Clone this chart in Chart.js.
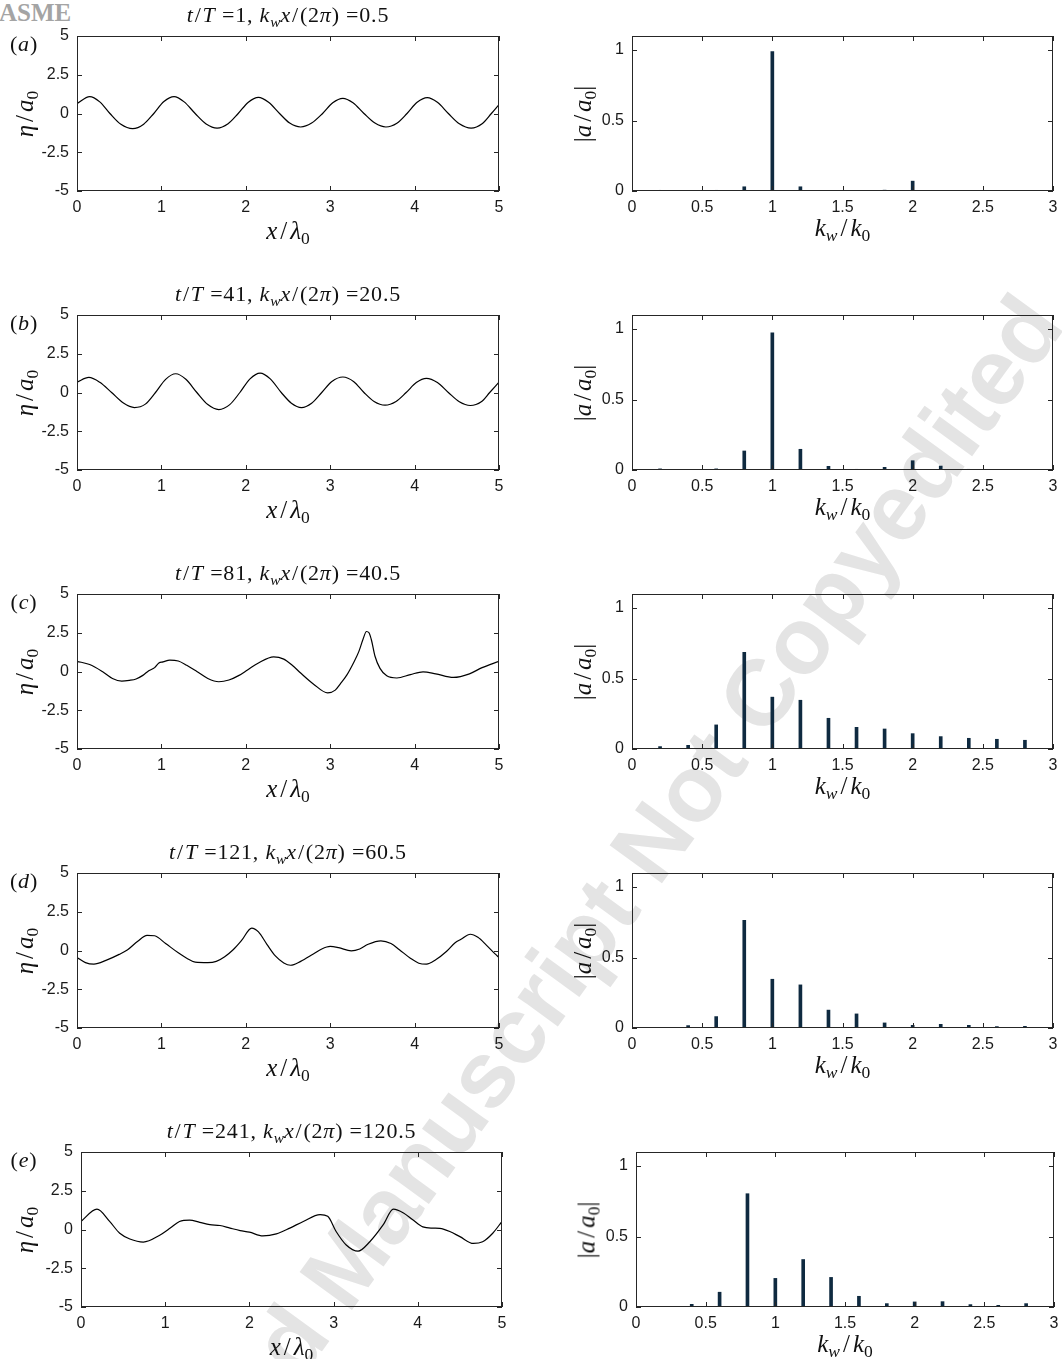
<!DOCTYPE html>
<html>
<head>
<meta charset="utf-8">
<script src="https://cdn.jsdelivr.net/npm/chart.js@4.4.0/dist/chart.umd.min.js"></script>
<style>
  body { margin: 0; background: #fff; }
  #page { position: relative; width: 1062px; height: 1359px; overflow: hidden; background: #fff; }
  .box { position: absolute; z-index: 2; }
  .math { position: absolute; z-index: 3; font-family: "Liberation Serif", "DejaVu Serif", serif;
          font-size: 25px; color: #111; white-space: nowrap; line-height: 1; transform: translate(-50%, -50%); }
  .math.title { font-size: 22px; letter-spacing: 0.8px; }
  .math.rot { transform: translate(-50%, -50%) rotate(-90deg); }
  .math sub { font-size: 70%; vertical-align: -0.3em; line-height: 0; letter-spacing: 0; }
  .math .sl { padding: 0 3px; }
  .math.title .sl { padding: 0 1px; }
  #asme { position: absolute; left: -1px; top: 0px; z-index: 1; font-family: "Liberation Serif", serif;
          font-weight: bold; font-size: 25px; color: #a4a4a4; line-height: 1; }
  #wm { position: absolute; left: 85px; top: 1599px; z-index: 1; transform-origin: 0 80px; transform: rotate(-54deg);
        font-family: "Liberation Sans", Arial, sans-serif; font-weight: bold; font-size: 94px; line-height: 1;
        color: #e4e4e4; white-space: nowrap; }
</style>
</head>
<body>
<div id="page">
  <div id="asme">ASME</div>
  <div id="wm">Accepted Manuscript Not Copyedited</div>
</div>
<script>
// ---- data ----
var panelLetters = ["a", "b", "c", "d", "e"];
var timeLabels = ["1", "41", "81", "121", "241"];
var phaseLabels = ["0.5", "20.5", "40.5", "60.5", "120.5"];

var xTicksLeft = [0, 1, 2, 3, 4, 5];
var yTicksLeft = [-5, -2.5, 0, 2.5, 5];
var xTicksRight = [0, 0.5, 1, 1.5, 2, 2.5, 3];
var yTicksRight = [0, 0.5, 1];

// surface elevation eta/a0 against x/lambda0
var etaX_a = [0, 0.15, 0.27, 0.39, 0.52, 0.66, 0.79, 0.91, 1.03, 1.15, 1.27, 1.40, 1.53, 1.66, 1.79, 1.91, 2.03, 2.15, 2.27, 2.40, 2.52, 2.65, 2.78, 2.91, 3.03, 3.15, 3.27, 3.40, 3.53, 3.66, 3.79, 3.91, 4.03, 4.15, 4.27, 4.40, 4.53, 4.67, 4.80, 4.91, 5.0];
var etaY_a = [0.63, 1.09, 0.75, 0, -0.70, -0.98, -0.69, 0, 0.77, 1.09, 0.75, 0, -0.67, -0.94, -0.66, 0, 0.73, 1.04, 0.72, 0, -0.62, -0.87, -0.62, 0, 0.69, 0.98, 0.69, 0, -0.62, -0.87, -0.63, 0, 0.72, 1.02, 0.72, 0, -0.66, -0.94, -0.66, 0, 0.57];

var etaX_b = [0, 0.14, 0.27, 0.41, 0.55, 0.68, 0.81, 0.93, 1.05, 1.17, 1.29, 1.42, 1.55, 1.68, 1.81, 1.93, 2.05, 2.17, 2.29, 2.42, 2.54, 2.66, 2.78, 2.90, 3.02, 3.15, 3.28, 3.40, 3.52, 3.65, 3.78, 3.90, 4.02, 4.14, 4.27, 4.40, 4.53, 4.66, 4.79, 4.89, 5.0];
var etaY_b = [0.67, 0.97, 0.66, 0, -0.68, -0.97, -0.75, 0, 0.85, 1.21, 0.85, 0, -0.78, -1.10, -0.78, 0, 0.88, 1.25, 0.88, 0, -0.69, -0.97, -0.69, 0, 0.71, 1.0, 0.70, 0, -0.58, -0.82, -0.58, 0, 0.64, 0.91, 0.64, 0, -0.60, -0.84, -0.60, 0, 0.67];

var etaX_c = [0, 0.15, 0.30, 0.42, 0.53, 0.62, 0.70, 0.78, 0.85, 0.92, 0.97, 1.02, 1.10, 1.20, 1.30, 1.42, 1.55, 1.68, 1.80, 1.92, 2.02, 2.15, 2.33, 2.45, 2.55, 2.65, 2.80, 2.97, 3.06, 3.12, 3.20, 3.28, 3.34, 3.39, 3.43, 3.46, 3.49, 3.53, 3.59, 3.67, 3.79, 3.95, 4.10, 4.25, 4.46, 4.65, 4.80, 5.0];
var etaY_c = [0.66, 0.45, 0.0, -0.45, -0.62, -0.57, -0.48, -0.25, 0.05, 0.25, 0.55, 0.62, 0.74, 0.68, 0.40, 0.0, -0.45, -0.66, -0.55, -0.25, 0.10, 0.55, 0.95, 0.80, 0.40, -0.10, -0.80, -1.38, -1.20, -0.80, -0.20, 0.60, 1.30, 2.10, 2.58, 2.50, 2.00, 1.00, 0.20, -0.28, -0.42, -0.20, -0.02, -0.15, -0.38, -0.15, 0.25, 0.66];

var etaX_d = [0, 0.10, 0.20, 0.35, 0.50, 0.60, 0.72, 0.83, 0.92, 1.05, 1.20, 1.30, 1.40, 1.55, 1.65, 1.75, 1.85, 1.95, 2.07, 2.15, 2.25, 2.35, 2.45, 2.53, 2.65, 2.80, 2.90, 3.00, 3.10, 3.25, 3.35, 3.45, 3.60, 3.72, 3.82, 3.95, 4.05, 4.14, 4.25, 4.38, 4.48, 4.55, 4.66, 4.75, 4.85, 4.95, 5.0];
var etaY_d = [-0.45, -0.78, -0.88, -0.62, -0.25, 0.05, 0.60, 0.98, 0.95, 0.45, -0.15, -0.50, -0.75, -0.78, -0.70, -0.40, 0.05, 0.65, 1.45, 1.20, 0.40, -0.35, -0.80, -0.95, -0.70, -0.22, 0.10, 0.26, 0.18, -0.02, 0.10, 0.40, 0.62, 0.45, 0.05, -0.50, -0.82, -0.88, -0.60, -0.05, 0.50, 0.72, 1.05, 0.85, 0.35, -0.20, -0.45];

var etaX_e = [0, 0.19, 0.34, 0.46, 0.58, 0.74, 0.94, 1.06, 1.17, 1.29, 1.41, 1.53, 1.65, 1.77, 1.89, 2.00, 2.16, 2.32, 2.48, 2.64, 2.84, 2.93, 3.03, 3.15, 3.29, 3.43, 3.59, 3.71, 3.83, 3.94, 4.06, 4.18, 4.26, 4.38, 4.50, 4.66, 4.77, 4.89, 5.0];
var etaY_e = [0.52, 1.31, 0.52, -0.24, -0.61, -0.81, -0.35, 0.09, 0.52, 0.61, 0.46, 0.31, 0.26, 0.09, -0.07, -0.17, -0.41, -0.28, 0.09, 0.52, 0.96, 0.85, -0.13, -1.00, -1.40, -0.79, 0.31, 1.31, 1.07, 0.63, 0.17, 0.09, 0.07, -0.13, -0.46, -0.90, -0.79, -0.24, 0.52];

// spectrum |a/a0| against kw/k0
var waveNumbers = [0.2, 0.4, 0.6, 0.8, 1.0, 1.2, 1.4, 1.6, 1.8, 2.0, 2.2, 2.4, 2.6, 2.8];
var amp_a = [0.005, 0.004, 0.005, 0.03, 0.99, 0.03, 0.004, 0.003, 0.006, 0.07, 0.004, 0.003, 0.002, 0.002];
var amp_b = [0.008, 0.003, 0.008, 0.135, 0.974, 0.147, 0.026, 0.005, 0.019, 0.066, 0.028, 0.005, 0.003, 0.002];
var amp_c = [0.017, 0.026, 0.171, 0.686, 0.368, 0.346, 0.218, 0.154, 0.142, 0.109, 0.088, 0.076, 0.069, 0.062];
var amp_d = [0.003, 0.017, 0.081, 0.764, 0.346, 0.306, 0.127, 0.100, 0.036, 0.019, 0.026, 0.019, 0.010, 0.012];
var amp_e = [0.004, 0.019, 0.105, 0.804, 0.203, 0.337, 0.210, 0.076, 0.024, 0.036, 0.038, 0.017, 0.012, 0.024];

var etaX = [etaX_a, etaX_b, etaX_c, etaX_d, etaX_e];
var etaY = [etaY_a, etaY_b, etaY_c, etaY_d, etaY_e];
var amps = [amp_a, amp_b, amp_c, amp_d, amp_e];

// ---- layout (plot areas in page pixels) ----
var rowTop = [36, 315, 594, 873, 1152];
var plotH = 155;
var leftX = [[77, 499], [77, 499], [77, 499], [77, 499], [81, 502]];
var rightX = [[632, 1053], [632, 1053], [632, 1053], [632, 1053], [636, 1054]];
var PADL = 60, PADT = 22, PADR = 18, PADB = 34;

var tickFont = { family: "'Liberation Sans', Arial, sans-serif", size: 16 };
var axisColor = '#262626';

var boxPlugin = {
  id: 'boxPlugin',
  afterDatasetsDraw: function(chart) {
    var ctx = chart.ctx, a = chart.chartArea, sx = chart.scales.x, sy = chart.scales.y;
    var len = 5;
    ctx.save();
    ctx.strokeStyle = axisColor;
    ctx.lineWidth = 1;
    ctx.beginPath();
    sx.ticks.forEach(function(t) {
      var px = Math.round(sx.getPixelForValue(t.value)) + 0.5;
      ctx.moveTo(px, a.bottom); ctx.lineTo(px, a.bottom - len);
      ctx.moveTo(px, a.top); ctx.lineTo(px, a.top + len);
    });
    sy.ticks.forEach(function(t) {
      var py = Math.round(sy.getPixelForValue(t.value)) + 0.5;
      ctx.moveTo(a.left, py); ctx.lineTo(a.left + len, py);
      ctx.moveTo(a.right, py); ctx.lineTo(a.right - len, py);
    });
    ctx.stroke();
    ctx.strokeRect(a.left + 0.5, a.top + 0.5, a.right - a.left - 1, a.bottom - a.top - 1);
    ctx.restore();
  }
};

var page = document.getElementById('page');

function addBox(x0, x1, y0) {
  var w = (x1 - x0) + PADL + PADR, h = plotH + PADT + PADB;
  var div = document.createElement('div');
  div.className = 'box';
  div.style.left = (x0 - PADL) + 'px';
  div.style.top = (y0 - PADT) + 'px';
  div.style.width = w + 'px';
  div.style.height = h + 'px';
  var cv = document.createElement('canvas');
  cv.width = w; cv.height = h;
  cv.style.width = w + 'px'; cv.style.height = h + 'px';
  div.appendChild(cv);
  page.appendChild(div);
  return cv;
}

function addMath(html, cx, cy, cls) {
  var d = document.createElement('div');
  d.className = 'math' + (cls ? ' ' + cls : '');
  d.innerHTML = html;
  d.style.left = cx + 'px';
  d.style.top = cy + 'px';
  page.appendChild(d);
}

function scaleOpts(min, max, ticks, isX) {
  return {
    type: 'linear',
    min: min, max: max,
    offset: false,
    afterBuildTicks: function(s) { s.ticks = ticks.map(function(v) { return { value: v }; }); },
    afterFit: function(s) { if (isX) s.height = PADB; else s.width = PADL; },
    grid: { display: false, drawTicks: false, offset: false },
    border: { display: false },
    ticks: {
      font: tickFont, color: '#1a1a1a', padding: isX ? 7 : 8, maxRotation: 0, autoSkip: false,
      callback: function(v) { return String(v); }
    }
  };
}

function baseOptions(xMin, xMax, xT, yMin, yMax, yT) {
  return {
    responsive: false,
    animation: false,
    devicePixelRatio: 1,
    layout: { padding: { left: 0, top: PADT, right: PADR, bottom: 0 } },
    plugins: { legend: { display: false }, tooltip: { enabled: false }, title: { display: false } },
    scales: {
      x: scaleOpts(xMin, xMax, xT, true),
      y: scaleOpts(yMin, yMax, yT, false)
    }
  };
}

function drawRow(r) {
  var y0 = rowTop[r], y1 = y0 + plotH;

  // left: surface profile
  var pts = etaX[r].map(function(x, i) { return { x: x, y: etaY[r][i] }; });
  new Chart(addBox(leftX[r][0], leftX[r][1], y0), {
    type: 'line',
    data: { datasets: [{
      data: pts, borderColor: '#000', borderWidth: 1.2, pointRadius: 0,
      cubicInterpolationMode: 'monotone', fill: false
    }] },
    options: baseOptions(0, 5, xTicksLeft, -5, 5, yTicksLeft),
    plugins: [boxPlugin]
  });

  // right: amplitude spectrum
  var bars = waveNumbers.map(function(k, i) { return { x: k, y: amps[r][i] }; });
  new Chart(addBox(rightX[r][0], rightX[r][1], y0), {
    type: 'bar',
    data: { datasets: [{
      data: bars, backgroundColor: '#0f2a40', borderWidth: 0, barThickness: 3
    }] },
    options: baseOptions(0, 3, xTicksRight, 0, 1.1, yTicksRight),
    plugins: [boxPlugin]
  });

  var lMid = (leftX[r][0] + leftX[r][1]) / 2, rMid = (rightX[r][0] + rightX[r][1]) / 2;
  addMath('<i>t</i><span class="sl">/</span><i>T</i> =' + timeLabels[r] + ', <i>k<sub>w</sub>x</i><span class="sl">/</span>(2<i>π</i>) =' + phaseLabels[r], lMid, y0 - 21, 'title');
  addMath('(<i>' + panelLetters[r] + '</i>)', 24, y0 + 8, 'title');
  addMath('<i>η</i><span class="sl">/</span><i>a</i><sub>0</sub>', 24, y0 + plotH / 2, 'rot');
  addMath('<i>x</i><span class="sl">/</span><i>λ</i><sub>0</sub>', lMid, y1 + 39, '');
  addMath('|<i>a</i><span class="sl">/</span><i>a</i><sub>0</sub>|', rightX[r][0] - 50, y0 + plotH / 2, 'rot');
  addMath('<i>k<sub>w</sub></i><span class="sl">/</span><i>k</i><sub>0</sub>', rMid, y1 + 36, '');
}

for (var r = 0; r < 5; r++) drawRow(r);
</script>
</body>
</html>
